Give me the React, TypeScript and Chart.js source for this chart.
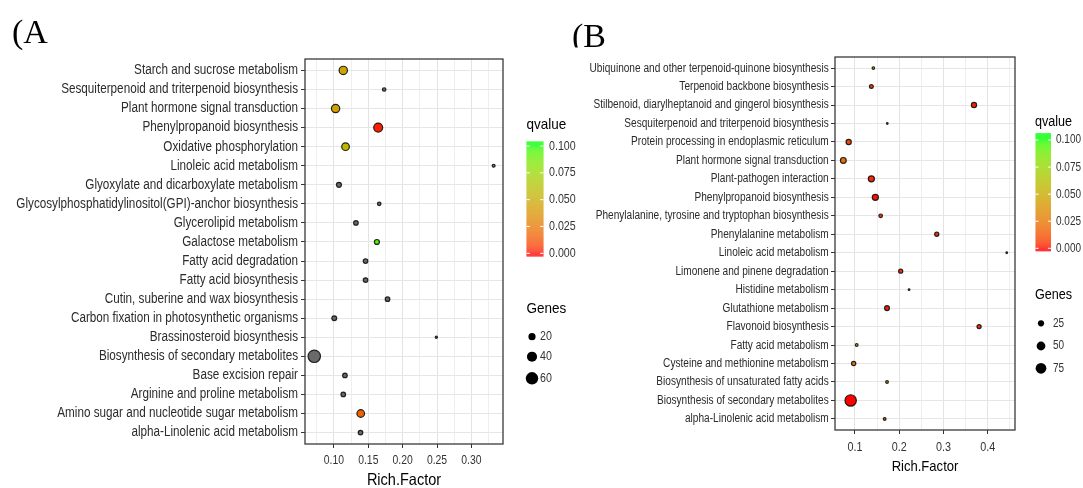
import React, { useEffect, useRef } from "react";
import { Chart, registerables } from "chart.js";

Chart.register(...registerables);

const W = 1083;
const H = 488;
const SANS = '"Liberation Sans", Arial, sans-serif';
const SERIF = '"Liberation Serif", "Times New Roman", serif';

// ---------------- Panel A data ----------------
const categoriesA = [
  "Starch and sucrose metabolism",
  "Sesquiterpenoid and triterpenoid biosynthesis",
  "Plant hormone signal transduction",
  "Phenylpropanoid biosynthesis",
  "Oxidative phosphorylation",
  "Linoleic acid metabolism",
  "Glyoxylate and dicarboxylate metabolism",
  "Glycosylphosphatidylinositol(GPI)-anchor biosynthesis",
  "Glycerolipid metabolism",
  "Galactose metabolism",
  "Fatty acid degradation",
  "Fatty acid biosynthesis",
  "Cutin, suberine and wax biosynthesis",
  "Carbon fixation in photosynthetic organisms",
  "Brassinosteroid biosynthesis",
  "Biosynthesis of secondary metabolites",
  "Base excision repair",
  "Arginine and proline metabolism",
  "Amino sugar and nucleotide sugar metabolism",
  "alpha-Linolenic acid metabolism",
];
const richFactorA = [0.1136, 0.1731, 0.1024, 0.1644, 0.1169, 0.3324, 0.1073, 0.1659, 0.132, 0.1625, 0.146, 0.146, 0.178, 0.1005, 0.249, 0.0714, 0.116, 0.1136, 0.139, 0.1387];
const genesA = [34, 8, 34, 39, 29, 6, 14, 8, 12, 14, 12, 12, 12, 13, 4, 70, 12, 12, 29, 12];
const qvalueA = [0.047, null, 0.045, 0.002, 0.056, null, null, null, null, 0.094, null, null, null, null, null, null, null, null, 0.017, null];
const xMajorA = [0.1, 0.15, 0.2, 0.25, 0.3];
const xMinorA = [0.075, 0.125, 0.175, 0.225, 0.275, 0.325];
const genesLegendA = [20, 40, 60];

// ---------------- Panel B data ----------------
const categoriesB = [
  "Ubiquinone and other terpenoid-quinone biosynthesis",
  "Terpenoid backbone biosynthesis",
  "Stilbenoid, diarylheptanoid and gingerol biosynthesis",
  "Sesquiterpenoid and triterpenoid biosynthesis",
  "Protein processing in endoplasmic reticulum",
  "Plant hormone signal transduction",
  "Plant-pathogen interaction",
  "Phenylpropanoid biosynthesis",
  "Phenylalanine, tyrosine and tryptophan biosynthesis",
  "Phenylalanine metabolism",
  "Linoleic acid metabolism",
  "Limonene and pinene degradation",
  "Histidine metabolism",
  "Glutathione metabolism",
  "Flavonoid biosynthesis",
  "Fatty acid metabolism",
  "Cysteine and methionine metabolism",
  "Biosynthesis of unsaturated fatty acids",
  "Biosynthesis of secondary metabolites",
  "alpha-Linolenic acid metabolism",
];
const richFactorB = [0.1415, 0.137, 0.369, 0.173, 0.0857, 0.0736, 0.137, 0.146, 0.158, 0.2848, 0.443, 0.2033, 0.2222, 0.1724, 0.3805, 0.1038, 0.097, 0.1724, 0.0902, 0.1671];
const genesB = [8, 15, 25, 4, 25, 30, 33, 33, 14, 17, 3, 17, 4, 22, 17, 9, 18, 9, 100, 9];
const qvalueB = [0.08, 0.006, 0.002, 0.078, 0.01, 0.022, 0.003, 0.001, 0.005, 0.004, 0.01, 0.004, 0.04, 0.002, 0.004, 0.086, 0.025, 0.04, 0.0, 0.018];
const xMajorB = [0.1, 0.2, 0.3, 0.4];
const xMinorB = [0.15, 0.25, 0.35, 0.45];
const genesLegendB = [25, 50, 75];

const qTicks = [0, 0.025, 0.05, 0.075, 0.1];
const Q_MAX = 0.1;

// ---------------- colour ramp (CIELAB, red -> green) ----------------
function toLin(c: number) {
  c /= 255;
  return c <= 0.04045 ? c / 12.92 : Math.pow((c + 0.055) / 1.055, 2.4);
}
function fromLin(c: number) {
  const v = c <= 0.0031308 ? 12.92 * c : 1.055 * Math.pow(c, 1 / 2.4) - 0.055;
  return Math.round(Math.max(0, Math.min(1, v)) * 255);
}
function rgbToLab(rgb: number[]) {
  const R = toLin(rgb[0]), G = toLin(rgb[1]), B = toLin(rgb[2]);
  const X = (0.4124 * R + 0.3576 * G + 0.1805 * B) / 0.95047;
  const Y = 0.2126 * R + 0.7152 * G + 0.0722 * B;
  const Z = (0.0193 * R + 0.1192 * G + 0.9505 * B) / 1.08883;
  const f = (t: number) => (t > 0.008856 ? Math.cbrt(t) : 7.787 * t + 16 / 116);
  const fx = f(X), fy = f(Y), fz = f(Z);
  return [116 * fy - 16, 500 * (fx - fy), 200 * (fy - fz)];
}
function labToRgb(lab: number[]) {
  const fy = (lab[0] + 16) / 116;
  const fx = fy + lab[1] / 500;
  const fz = fy - lab[2] / 200;
  const fi = (t: number) => (t > 0.206893 ? t * t * t : (t - 16 / 116) / 7.787);
  const X = fi(fx) * 0.95047, Y = fi(fy), Z = fi(fz) * 1.08883;
  const R = 3.2406 * X - 1.5372 * Y - 0.4986 * Z;
  const G = -0.9689 * X + 1.8758 * Y + 0.0415 * Z;
  const B = 0.0557 * X - 0.204 * Y + 1.057 * Z;
  return [fromLin(R), fromLin(G), fromLin(B)];
}
const LAB_LOW = rgbToLab([255, 0, 0]);
const LAB_HIGH = rgbToLab([0, 255, 0]);
function qColor(q: number | null) {
  if (q === null || q === undefined) return "#6a6a6a";
  const t = Math.max(0, Math.min(1, q / Q_MAX));
  const lab = [0, 1, 2].map((k) => LAB_LOW[k] + (LAB_HIGH[k] - LAB_LOW[k]) * t);
  const c = labToRgb(lab);
  return `rgb(${c[0]},${c[1]},${c[2]})`;
}

const near = (a: number, b: number) => Math.abs(a - b) < 1e-9;

// condensed text (the reference uses a narrow sans face)
function sText(ctx: any, text: string, x: number, y: number, size: number, sx: number, align: string, color: string) {
  ctx.save();
  ctx.translate(x, y);
  ctx.scale(sx, 1);
  ctx.font = `${size}px ${SANS}`;
  ctx.textAlign = align;
  ctx.textBaseline = "middle";
  ctx.fillStyle = color;
  ctx.fillText(text, 0, 0);
  ctx.restore();
}

function decor(cfg: any) {
  return {
    id: "decor" + cfg.key,
    afterDraw(chart: any) {
      const ctx = chart.ctx;
      const a = chart.chartArea;
      const T = cfg.text;
      ctx.save();
      // panel border
      ctx.strokeStyle = "#3a3a3a";
      ctx.lineWidth = 1.3;
      ctx.strokeRect(a.left, a.top, a.right - a.left, a.bottom - a.top);

      // y category labels
      const ys = chart.scales.y;
      cfg.categories.forEach((c: string, i: number) => {
        sText(ctx, c, a.left - 4 - T.yPad, ys.getPixelForValue(i), T.ySize, T.ySx, "right", "#2b2b2b");
      });
      // x tick labels
      const xs = chart.scales.x;
      cfg.xMajor.forEach((v: number) => {
        sText(ctx, v.toFixed(cfg.decimals), xs.getPixelForValue(v), T.xTickY, T.xSize, T.xSx, "center", "#333");
      });
      // x title
      sText(ctx, "Rich.Factor", (a.left + a.right) / 2, T.titleY, T.titleSize, T.titleSx, "center", "#000");

      // panel letter
      ctx.save();
      ctx.beginPath();
      ctx.rect(0, 0, W, cfg.letter.clipY);
      ctx.clip();
      ctx.fillStyle = "#000";
      ctx.font = `${cfg.letter.size}px ${SERIF}`;
      ctx.textBaseline = "alphabetic";
      ctx.textAlign = "left";
      ctx.fillText(cfg.letter.text, cfg.letter.x, cfg.letter.y);
      ctx.restore();

      // q-value colourbar legend
      const L = cfg.legend;
      sText(ctx, "qvalue", L.x, L.qTitleY, L.titleSize, L.titleSx, "left", "#000");
      const span = L.valBottom - L.valTop;
      for (let y = L.barTop; y < L.barBottom; y += 1) {
        const t = (L.valBottom - (y + 0.5)) / span;
        ctx.fillStyle = qColor(t * Q_MAX);
        ctx.fillRect(L.barX, y, L.barW, 1);
      }
      ctx.strokeStyle = "#ffffff";
      ctx.lineWidth = 1;
      qTicks.forEach((q) => {
        const y = L.valBottom - (q / Q_MAX) * span;
        ctx.beginPath();
        ctx.moveTo(L.barX, y);
        ctx.lineTo(L.barX + L.barW * 0.2, y);
        ctx.moveTo(L.barX + L.barW * 0.8, y);
        ctx.lineTo(L.barX + L.barW, y);
        ctx.stroke();
        sText(ctx, q.toFixed(3), L.labelX, y, L.labelSize, L.labelSx, "left", "#333");
      });

      // genes size legend
      sText(ctx, "Genes", L.x, L.genesTitleY, L.titleSize, L.titleSx, "left", "#000");
      cfg.genesLegend.forEach((g: number, i: number) => {
        const y = L.dotYs[i];
        ctx.fillStyle = "#000";
        ctx.beginPath();
        ctx.arc(L.dotX, y, cfg.radius(g), 0, Math.PI * 2);
        ctx.fill();
        sText(ctx, String(g), L.dotLabelX, y, L.labelSize, L.labelSx, "left", "#333");
      });
      ctx.restore();
    },
  };
}

function makeChart(canvas: HTMLCanvasElement, cfg: any) {
  const n = cfg.categories.length;
  const xTicks = [...cfg.xMajor, ...cfg.xMinor].sort((p: number, q: number) => p - q);
  const isMajor = (v: number) => cfg.xMajor.some((m: number) => near(m, v));
  return new Chart(canvas, {
    type: "scatter",
    data: {
      datasets: [
        {
          data: cfg.categories.map((_: string, i: number) => ({ x: cfg.rich[i], y: i })),
          pointRadius: (c: any) => Math.max(0.8, cfg.radius(cfg.genes[c.dataIndex]) - 0.5),
          pointHoverRadius: (c: any) => Math.max(0.8, cfg.radius(cfg.genes[c.dataIndex]) - 0.5),
          backgroundColor: (c: any) => qColor(cfg.q[c.dataIndex]),
          borderColor: "rgba(15,15,15,0.9)",
          borderWidth: 1.2,
        },
      ],
    },
    options: {
      responsive: false,
      animation: false,
      devicePixelRatio: 1,
      events: [],
      layout: { padding: { left: 0, right: W - cfg.plotRight, top: cfg.plotTop, bottom: cfg.padBottom } },
      plugins: { legend: { display: false }, tooltip: { enabled: false } },
      scales: {
        x: {
          type: "linear",
          min: cfg.xMin,
          max: cfg.xMax,
          afterBuildTicks: (s: any) => {
            s.ticks = xTicks.map((v: number) => ({ value: v }));
          },
          afterFit: (s: any) => {
            s.height = cfg.xAxisHeight;
          },
          ticks: { display: false, autoSkip: false, maxRotation: 0 },
          grid: {
            color: (c: any) => (isMajor(c.tick.value) ? "#e3e3e3" : "#eeeeee"),
            tickColor: (c: any) => (isMajor(c.tick.value) ? "#333" : "rgba(0,0,0,0)"),
            tickLength: 4,
            lineWidth: 1,
          },
          border: { display: false },
          title: { display: false },
        },
        y: {
          type: "linear",
          reverse: true,
          min: -0.6,
          max: n - 0.4,
          afterBuildTicks: (s: any) => {
            s.ticks = cfg.categories.map((_: string, i: number) => ({ value: i }));
          },
          afterFit: (s: any) => {
            s.width = cfg.plotLeft;
          },
          ticks: { display: false, autoSkip: false },
          grid: { color: "#e6e6e6", tickColor: "#333", tickLength: 4, lineWidth: 1 },
          border: { display: false },
        },
      },
    },
    plugins: [decor(cfg)],
  } as any);
}

const cfgA = {
  key: "A",
  categories: categoriesA,
  rich: richFactorA,
  genes: genesA,
  q: qvalueA,
  xMajor: xMajorA,
  xMinor: xMinorA,
  decimals: 2,
  xMin: 0.0579,
  xMax: 0.346,
  plotLeft: 305,
  plotRight: 503,
  plotTop: 59,
  padBottom: 0,
  xAxisHeight: 44,
  radius: (g: number) => 0.8 * Math.sqrt(g),
  genesLegend: genesLegendA,
  text: { yPad: 3, ySize: 14, ySx: 0.836, xTickY: 460, xSize: 13, xSx: 0.8, titleY: 480.7, titleSize: 16.5, titleSx: 0.88 },
  letter: { text: "(A", x: 12, y: 43, size: 34, clipY: H },
  legend: {
    x: 526.5,
    qTitleY: 125,
    titleSize: 15,
    titleSx: 0.9,
    barX: 526.5,
    barW: 17,
    barTop: 141.5,
    barBottom: 256,
    valTop: 146,
    valBottom: 253.3,
    labelX: 549,
    labelSize: 13,
    labelSx: 0.82,
    genesTitleY: 308.5,
    dotX: 532,
    dotYs: [336.7, 356.7, 378.3],
    dotLabelX: 540,
  },
};

const cfgB = {
  key: "B",
  categories: categoriesB,
  rich: richFactorB,
  genes: genesB,
  q: qvalueB,
  xMajor: xMajorB,
  xMinor: xMinorB,
  decimals: 1,
  xMin: 0.0548,
  xMax: 0.4617,
  plotLeft: 835,
  plotRight: 1015,
  plotTop: 57,
  padBottom: 13,
  xAxisHeight: 45,
  radius: (g: number) => 0.62 * Math.sqrt(g),
  genesLegend: genesLegendB,
  text: { yPad: 2.3, ySize: 12.5, ySx: 0.808, xTickY: 447.5, xSize: 13, xSx: 0.83, titleY: 466.7, titleSize: 15, titleSx: 0.87 },
  letter: { text: "(B", x: 572, y: 46.7, size: 34, clipY: 47.5 },
  legend: {
    x: 1035,
    qTitleY: 121.7,
    titleSize: 14,
    titleSx: 0.9,
    barX: 1035.5,
    barW: 15.5,
    barTop: 133.3,
    barBottom: 251,
    valTop: 140,
    valBottom: 248.3,
    labelX: 1056,
    labelSize: 12.5,
    labelSx: 0.8,
    genesTitleY: 295.5,
    dotX: 1041,
    dotYs: [323.3, 346, 368.3],
    dotLabelX: 1053,
  },
};

export default function App() {
  const refA = useRef<HTMLCanvasElement | null>(null);
  const refB = useRef<HTMLCanvasElement | null>(null);
  useEffect(() => {
    document.body.style.margin = "0";
    document.body.style.background = "#ffffff";
    const charts: Chart[] = [];
    if (refA.current) charts.push(makeChart(refA.current, cfgA));
    if (refB.current) charts.push(makeChart(refB.current, cfgB));
    return () => charts.forEach((c) => c.destroy());
  }, []);
  const cs: React.CSSProperties = { position: "absolute", left: 0, top: 0, width: W, height: H };
  return (
    <div style={{ position: "fixed", left: 0, top: 0, width: W, height: H, background: "#fff" }}>
      <canvas ref={refA} width={W} height={H} style={cs} />
      <canvas ref={refB} width={W} height={H} style={cs} />
    </div>
  );
}
